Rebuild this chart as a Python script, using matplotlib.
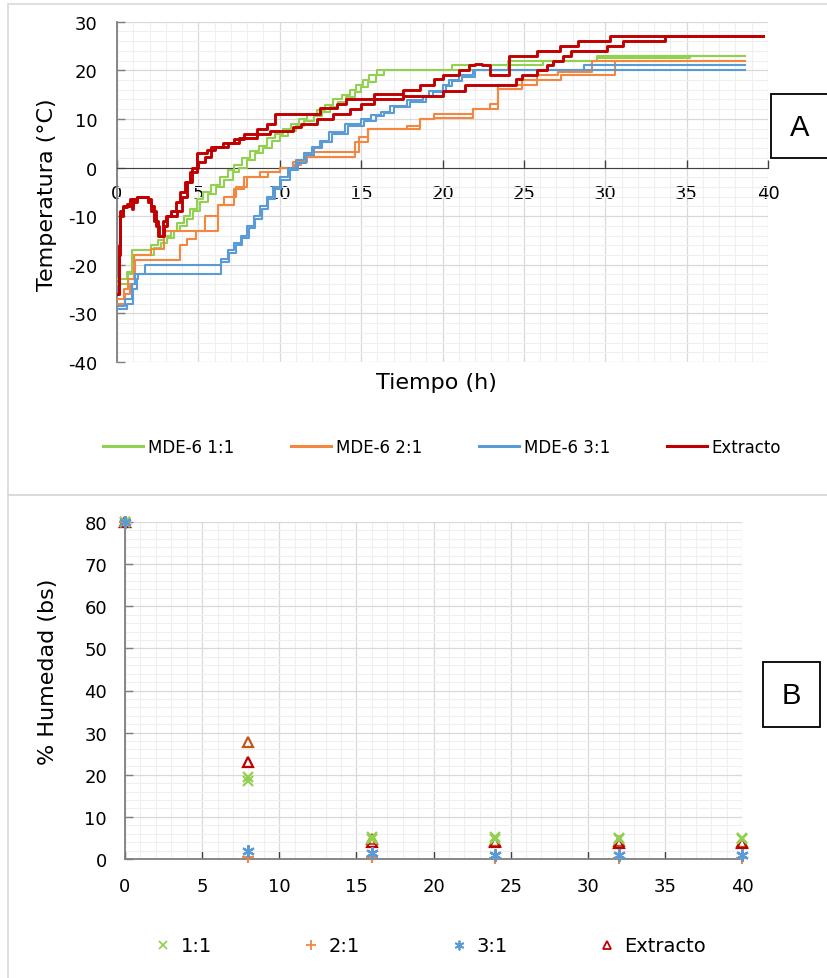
import matplotlib
matplotlib.use("Agg")
import matplotlib.pyplot as plt
from matplotlib.patches import Rectangle
from matplotlib.lines import Line2D
from matplotlib.ticker import MultipleLocator

plt.rcParams['font.family'] = ['DejaVu Sans']
plt.rcParams['axes.unicode_minus'] = False

# ---------------- Panel A data: temperature (°C) vs time (h), two replicates per sample
t_mde11_a = [0, 0.6, 0.9, 2.1, 2.5, 2.9, 3.3, 3.7, 4.1, 4.5, 4.9, 5.3, 5.8, 6.3, 6.8, 7.2, 7.7, 8.2, 8.7, 9.2, 9.7,
             10.2, 10.7, 11.2, 11.7, 12.3, 12.8, 13.3, 13.8, 14.3, 14.7, 15.1, 15.5, 16.0, 20.6, 24.0, 29.5, 38.6]
T_mde11_a = [-23, -21.5, -17, -16, -15, -14, -13, -11.5, -10, -8.5, -6.5, -5, -3.5, -2, -0.5, 0.5, 2, 3.5, 4.5, 6, 7,
             8, 9, 10, 11, 11.8, 12.8, 14, 15, 16, 17, 18, 19, 20, 21, 22, 23, 23]
t_mde11_b = [0, 0.7, 1.0, 2.3, 2.7, 3.1, 3.5, 3.9, 4.3, 4.7, 5.1, 5.6, 6.1, 6.6, 7.1, 7.5, 8.0, 8.5, 9.0, 9.5, 10.0,
             10.5, 11.0, 11.5, 12.1, 12.6, 13.1, 13.6, 14.1, 14.6, 15.0, 15.4, 15.9, 16.4, 24.0, 26.2, 29.5, 35.2, 38.6]
T_mde11_b = [-24, -22, -18, -16.5, -15.5, -14.5, -13, -12, -10.5, -9, -7, -5.5, -4, -2.5, -1, 0, 1.5, 3, 4, 5.5, 6.5,
             7.5, 8.5, 9.5, 10.5, 11.5, 12.5, 13.5, 14.5, 15.5, 16.5, 17.5, 19, 20, 21, 22, 22.5, 23, 23]

t_mde21_a = [0, 0.45, 0.7, 1.05, 2.1, 2.9, 6.2, 7.2, 7.8, 8.8, 10.0, 10.8, 11.6, 12.1, 14.9, 15.4, 17.8, 18.6, 19.5,
             21.9, 22.9, 23.4, 24.9, 25.8, 27.1, 29.2, 38.6]
T_mde21_a = [-27, -25, -23, -18, -16.7, -13, -7.8, -4.4, -2, -1, 0, 1.1, 2.1, 3.3, 6.2, 7.9, 8.6, 10, 11,
             12, 13, 17, 18, 19, 19.7, 22, 22]
t_mde21_b = [0, 0.5, 0.8, 1.1, 3.9, 4.3, 4.85, 5.4, 6.2, 6.6, 7.3, 8.0, 9.3, 10.0, 10.9, 11.3, 11.7, 14.6, 15.4,
             17.8, 18.6, 19.5, 21.9, 23.4, 24.9, 25.8, 27.3, 30.6, 38.6]
T_mde21_b = [-28, -26, -24, -19, -16, -14.7, -13, -10, -7.8, -6, -4, -2, -1, 0, 0.5, 1.1, 2.1, 5.2, 7.9,
             7.9, 10, 10.2, 12, 16.2, 17, 18, 19, 22, 22]

t_mde31_a = [0, 0.5, 0.9, 1.1, 1.7, 6.4, 6.8, 7.2, 7.6, 8.0, 8.4, 8.8, 9.2, 9.6, 10.0, 10.5, 11.0, 11.5, 12.0, 12.5,
             13.0, 14.0, 15.0, 15.6, 16.2, 16.8, 17.8, 18.8, 19.2, 20.0, 20.4, 21.0, 21.9, 28.7, 38.6]
T_mde31_a = [-28.5, -27, -24, -22, -20, -18.8, -17, -15.5, -14, -12, -10, -8, -6, -4, -2, 0, 1.5, 3, 4.2, 5.5,
             7.3, 9, 10, 10.8, 11.4, 12.7, 13.8, 14.8, 15.8, 17, 18, 19, 20, 21, 21]
t_mde31_b = [0, 0.6, 1.0, 1.2, 1.3, 6.4, 6.9, 7.3, 7.7, 8.1, 8.5, 8.9, 9.3, 9.7, 10.1, 10.6, 11.1, 11.6, 12.1, 12.6,
             13.2, 14.2, 15.2, 15.9, 16.4, 17.0, 18.0, 19.0, 19.4, 20.2, 20.6, 21.2, 22.0, 38.6]
T_mde31_b = [-29, -28, -25, -23, -21.8, -19.5, -17.5, -16, -14.5, -12.5, -10.5, -8.5, -6.5, -4.5, -2.5, -0.5, 1, 2.5,
             4, 5.2, 7, 8.5, 9.6, 10.5, 11.2, 12.4, 13.5, 14.5, 15.5, 16.7, 17.7, 18.7, 20, 20]

t_ext_a = [0, 0.1, 0.2, 0.35, 0.6, 0.8, 0.9, 1.0, 1.2, 1.9, 2.1, 2.3, 2.5, 2.8, 3.0, 3.3, 3.6, 3.9, 4.2, 4.5, 4.9,
           5.5, 6.0, 6.5, 7.2, 7.8, 8.6, 9.2, 9.7, 12.5, 13.5, 14.1, 15.8, 17.6, 18.6, 19.5, 20.0, 21.0, 21.6, 22.0,
           22.4, 22.9, 24.1, 25.8, 27.2, 28.3, 30.3, 39.7]
T_ext_a = [-26, -18, -10, -8.2, -8, -7, -8.5, -7, -6, -6.5, -8, -11, -14, -11, -10, -9, -7, -5, -3, -1, 3,
           3.6, 4.2, 5.1, 5.8, 6.9, 7.9, 9, 11, 12.2, 13, 14, 15.1, 16, 17, 18.2, 19, 20, 21, 21.3,
           21, 19, 23, 24, 25, 26, 27, 27]
t_ext_b = [0, 0.1, 0.2, 0.35, 0.6, 0.8, 0.9, 1.0, 1.2, 1.9, 2.1, 2.4, 2.6, 2.9, 3.1, 3.4, 3.7, 4.0, 4.3, 4.6, 5.0,
           5.4, 5.8, 6.8, 7.5, 8.6, 9.4, 10.8, 11.3, 12.3, 13.3, 14.3, 15.0, 15.8, 17.6, 20.0, 21.4, 24.5, 24.9,
           25.8, 26.4, 26.8, 27.4, 27.9, 30.1, 31.1, 33.7, 39.7]
T_ext_b = [-26, -16, -9, -8, -7.5, -6.5, -8, -6.5, -6, -7, -9, -12, -14, -12, -10, -10, -9, -6, -3, 0, 1.1,
           2.1, 4.2, 5.1, 6, 6.9, 7.5, 8.3, 9, 10, 11, 12, 13, 14.2, 14.8, 15.8, 17, 18.2, 19,
           20, 21, 22, 23, 24, 25, 26, 27, 27]

labels_A = ['MDE-6 1:1', 'MDE-6 2:1', 'MDE-6 3:1', 'Extracto']

# ---------------- Panel B data: moisture (% dry basis) vs time (h)
t_hum = [0, 8, 16, 24, 32, 40]
hum_11_a = [80, 19.5, 5.2, 5.2, 5.0, 5.0]
hum_11_b = [80, 18.5, 4.8, 4.8, 4.8, 4.8]
hum_21 = [80, 0.5, 0.5, 0.3, 0.3, 0.3]
hum_31 = [80, 1.8, 1.5, 1.0, 1.0, 1.0]
hum_ext_a = [80, 23.0, 4.0, 4.0, 3.8, 3.8]
hum_ext_b = [80, 27.8, 4.8, 4.3, 4.3, 4.0]
labels_B = ['1:1', '2:1', '3:1', 'Extracto']

GREEN = '#92d050'
ORANGE = '#f4873f'
BLUE = '#5b9bd5'
RED = '#c00000'
BROWN = '#c0581c'

W, H = 827, 979
fig = plt.figure(figsize=(W / 100, H / 100), dpi=100)


def fx(px):
    return px / W


def fy(py):
    return 1 - py / H


# panel frames
for (x0, y0, x1, y1) in [(8, 5, 840, 496), (8, 496, 840, 990)]:
    fig.patches.append(Rectangle((fx(x0), fy(y1)), fx(x1) - fx(x0), fy(y0) - fy(y1),
                                 transform=fig.transFigure, fill=False, ec='#d9d9d9', lw=1.2))


def style_grid(ax, xmin, ymin):
    ax.xaxis.set_major_locator(MultipleLocator(5))
    ax.xaxis.set_minor_locator(MultipleLocator(xmin))
    ax.yaxis.set_major_locator(MultipleLocator(10))
    ax.yaxis.set_minor_locator(MultipleLocator(ymin))
    ax.grid(which='major', color='#d9d9d9', lw=0.9, zorder=0)
    ax.grid(which='minor', color='#efefef', lw=0.8, zorder=0)
    ax.set_axisbelow(True)
    ax.tick_params(which='minor', length=0)
    ax.tick_params(which='major', direction='in', length=6, width=1.0, labelsize=13, colors='#000000')
    for s in ['top', 'right']:
        ax.spines[s].set_visible(False)


# ---------------- Panel A
axA = fig.add_axes([fx(117), fy(363), fx(768) - fx(117), fy(22.7) - fy(363)])
style_grid(axA, 1, 2)
axA.set_xlim(0, 40)
axA.set_ylim(-40, 30)
axA.spines['bottom'].set_position(('data', 0))
axA.spines['bottom'].set_color('#404040')
axA.spines['left'].set_color('#7f7f7f')
axA.spines['left'].set_linewidth(1.3)
axA.tick_params(axis='x', pad=12, color='#404040')
axA.tick_params(axis='y', pad=14, color='#7f7f7f')

series_A = [
    (t_mde11_a, T_mde11_a, t_mde11_b, T_mde11_b, GREEN, 1.5),
    (t_mde21_a, T_mde21_a, t_mde21_b, T_mde21_b, ORANGE, 1.5),
    (t_mde31_a, T_mde31_a, t_mde31_b, T_mde31_b, BLUE, 1.5),
    (t_ext_a, T_ext_a, t_ext_b, T_ext_b, RED, 2.1),
]
handles_A = []
for (ta, Ta, tb, Tb, c, lw), lab in zip(series_A, labels_A):
    axA.plot(ta, Ta, drawstyle='steps-post', color=c, lw=lw, zorder=3)
    axA.plot(tb, Tb, drawstyle='steps-post', color=c, lw=lw, zorder=3)
    handles_A.append(Line2D([], [], color=c, lw=2.2, label=lab))

fig.text(fx(47), fy(195), 'Temperatura (°C)', ha='center', va='center', rotation=90, fontsize=16)
fig.text(fx(436), fy(383), 'Tiempo (h)', ha='center', va='center', fontsize=16)

fig.legend(handles=handles_A, loc='center', bbox_to_anchor=(fx(442), fy(448)), ncol=4,
           frameon=False, handlelength=2.4, handletextpad=0.3, columnspacing=3.4,
           prop={'size': 12})

# box "A"
fig.patches.append(Rectangle((fx(771), fy(159)), fx(840) - fx(771), fy(95) - fy(159),
                             transform=fig.transFigure, fill=True, fc='white', ec='black', lw=1.3))
fig.text(fx(800), fy(128), 'A', ha='center', va='center', fontsize=21,
         family=['Liberation Sans', 'DejaVu Sans'])

# ---------------- Panel B
axB = fig.add_axes([fx(125), fy(860), fx(742) - fx(125), fy(523) - fy(860)])
style_grid(axB, 1, 2)
axB.set_xlim(0, 40)
axB.set_ylim(0, 80)
for s in ['left', 'bottom']:
    axB.spines[s].set_color('#7f7f7f')
    axB.spines[s].set_linewidth(1.3)
axB.tick_params(axis='x', pad=13, color='#404040')
axB.tick_params(axis='y', pad=13, color='#7f7f7f')

mk = dict(ls='none', clip_on=False, zorder=4)
axB.plot(t_hum, hum_ext_b, marker='^', ms=7, mfc='none', mec=BROWN, mew=1.6, **mk)
axB.plot(t_hum, hum_ext_a, marker='^', ms=7, mfc='none', mec=RED, mew=1.6, **mk)
axB.plot(t_hum, hum_11_a, marker='x', ms=7, mec=GREEN, mew=1.6, **mk)
axB.plot(t_hum, hum_11_b, marker='x', ms=7, mec=GREEN, mew=1.6, **mk)
axB.plot(t_hum, hum_21, marker='+', ms=8, mec=ORANGE, mew=1.6, **mk)
axB.plot(t_hum, hum_31, marker=(6, 2, 0), ms=9, mec=BLUE, mew=1.6, **mk)

handles_B = [
    Line2D([], [], ls='none', marker='x', ms=6, mec=GREEN, mew=1.3, label=labels_B[0]),
    Line2D([], [], ls='none', marker='+', ms=7, mec=ORANGE, mew=1.3, label=labels_B[1]),
    Line2D([], [], ls='none', marker=(6, 2, 0), ms=7, mec=BLUE, mew=1.3, label=labels_B[2]),
    Line2D([], [], ls='none', marker='^', ms=6, mfc='none', mec=RED, mew=1.3, label=labels_B[3]),
]
fig.legend(handles=handles_B, loc='center', bbox_to_anchor=(fx(430), fy(947)), ncol=4,
           frameon=False, handlelength=1.0, handletextpad=0.4, columnspacing=4.6,
           prop={'size': 14})

fig.text(fx(48), fy(672), '% Humedad (bs)', ha='center', va='center', rotation=90, fontsize=16)

# box "B"
fig.patches.append(Rectangle((fx(763), fy(728)), fx(820) - fx(763), fy(663) - fy(728),
                             transform=fig.transFigure, fill=True, fc='white', ec='black', lw=1.3))
fig.text(fx(791), fy(696), 'B', ha='center', va='center', fontsize=21,
         family=['Liberation Sans', 'DejaVu Sans'])

fig.savefig('out.png', dpi=100)
